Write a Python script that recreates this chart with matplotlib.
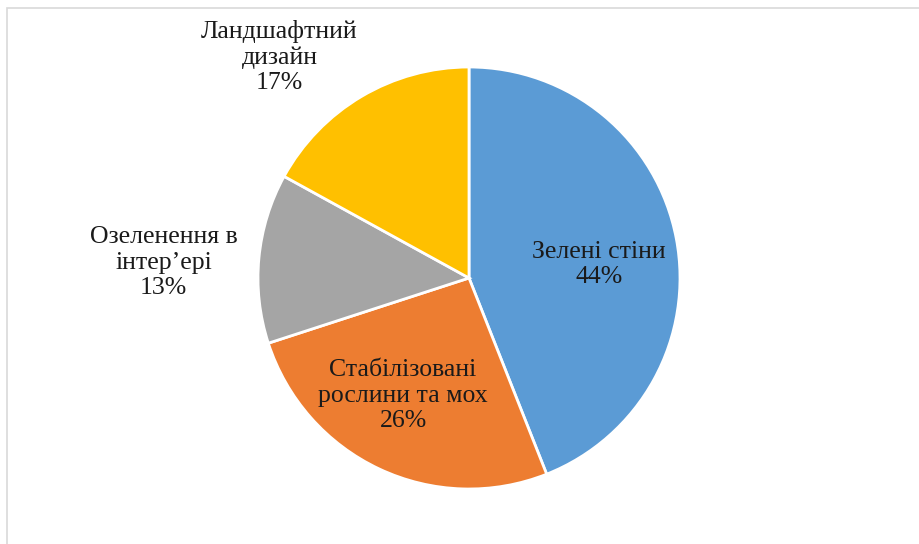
import numpy as np
import matplotlib
matplotlib.use('Agg')
import matplotlib.pyplot as plt
from matplotlib.patches import Rectangle

plt.rcParams['font.family'] = ['Liberation Serif', 'DejaVu Serif']

categories = ['Зелені стіни', 'Стабілізовані\nрослини та мох', 'Озеленення в\nінтер’ері', 'Ландшафтний\nдизайн']
shares = [44, 26, 13, 17]
colors = ['#5B9BD5', '#ED7D31', '#A5A5A5', '#FFC000']

# label placement: radius (in pie radii) and angle tweak (deg)
label_r = [0.62, 0.64, 1.45, 1.38]
label_dang = [-5, -4, 2.5, 10]

fig = plt.figure(figsize=(9.2, 5.44), dpi=100)
fig.patches.append(Rectangle((7 / 920, -0.1), 1.2, 1 - 8 / 544 + 0.1, transform=fig.transFigure,
                             fill=False, edgecolor='#D9D9D9', linewidth=1.2))

cx, cy, r = 469, 544 - 278, 211
ax = fig.add_axes([(cx - r) / 920, (cy - r) / 544, 2 * r / 920, 2 * r / 544])
wedges, _ = ax.pie(shares, colors=colors, startangle=90, counterclock=False,
                   wedgeprops=dict(edgecolor='white', linewidth=2))
ax.set_xlim(-1, 1)
ax.set_ylim(-1, 1)

for w, cat, val, lr, da in zip(wedges, categories, shares, label_r, label_dang):
    mid = np.deg2rad((w.theta1 + w.theta2) / 2 + da)
    ax.text(lr * np.cos(mid), lr * np.sin(mid), f'{cat}\n{val}%', ha='center', va='center',
            fontsize=18.5, linespacing=1.2, color='#1a1a1a', clip_on=False)

fig.savefig('out.png', dpi=100)
